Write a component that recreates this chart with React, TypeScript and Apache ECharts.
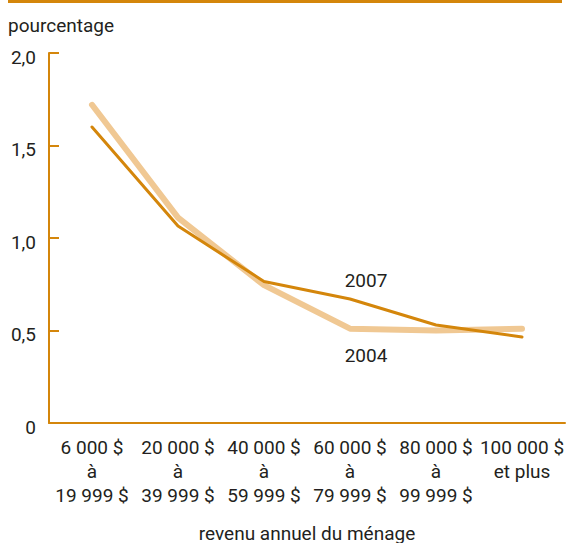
import React, { useEffect, useRef } from "react";
import * as echarts from "echarts";

const categories = [
  "6 000 $\nà\n19 999 $",
  "20 000 $\nà\n39 999 $",
  "40 000 $\nà\n59 999 $",
  "60 000 $\nà\n79 999 $",
  "80 000 $\nà\n99 999 $",
  "100 000 $\net plus",
];
const values2007 = [1.6, 1.065, 0.765, 0.67, 0.53, 0.465];
const values2004 = [1.72, 1.11, 0.745, 0.51, 0.5, 0.51];
const yTicks = [0, 0.5, 1, 1.5, 2];
const labelIndex = 3;

const DARK = "#d4860b";
const LIGHT = "#f0c893";
const TEXT = "#231f20";
const FONT = "Roboto, 'Liberation Sans', sans-serif";
const FS = 19;

export default function App() {
  const ref = useRef<HTMLDivElement>(null);
  useEffect(() => {
    if (!ref.current) return;
    const chart = echarts.init(ref.current, null, { renderer: "svg" });
    const seriesLabel = (text: string, offset: number[]) => ({
      show: true,
      position: "inside",
      formatter: text,
      offset,
      color: TEXT,
      fontSize: FS,
      fontFamily: FONT,
    });
    chart.setOption({
      animation: false,
      backgroundColor: "#ffffff",
      textStyle: { fontFamily: FONT },
      grid: { left: 49, top: 53, right: 8, bottom: 120, containLabel: false },
      graphic: [
        {
          type: "line",
          shape: { x1: 8, y1: 1.5, x2: 562, y2: 1.5 },
          style: { stroke: DARK, lineWidth: 3 },
        },
        {
          type: "text",
          x: 8,
          y: 25,
          style: {
            text: "pourcentage",
            font: `${FS}px ${FONT}`,
            fill: TEXT,
            verticalAlign: "middle",
          },
        },
        {
          type: "text",
          x: 307,
          y: 533,
          style: {
            text: "revenu annuel du ménage",
            font: `${FS}px ${FONT}`,
            fill: TEXT,
            align: "center",
            verticalAlign: "middle",
          },
        },
      ],
      xAxis: {
        type: "category",
        data: categories,
        boundaryGap: true,
        axisLine: { lineStyle: { color: DARK, width: 2 } },
        axisTick: { inside: true, length: 10, lineStyle: { color: DARK, width: 2 } },
        axisLabel: {
          interval: 0,
          margin: 12,
          color: TEXT,
          fontSize: FS,
          lineHeight: 24,
          fontFamily: FONT,
          align: "center",
        },
        splitLine: { show: false },
      },
      yAxis: {
        type: "value",
        min: yTicks[0],
        max: yTicks[yTicks.length - 1],
        interval: 0.5,
        axisLine: { show: true, lineStyle: { color: DARK, width: 2 } },
        axisTick: { show: true, inside: true, length: 10, lineStyle: { color: DARK, width: 2 } },
        splitLine: { show: false },
        axisLabel: {
          margin: 13,
          color: TEXT,
          fontSize: FS,
          fontFamily: FONT,
          verticalAlign: "top",
          lineHeight: 8,
          formatter: (v: number) => (v === 0 ? "0" : v.toFixed(1).replace(".", ",")),
        },
      },
      series: [
        {
          name: "2004",
          type: "line",
          data: values2004,
          symbol: "none",
          lineStyle: { color: LIGHT, width: 6, cap: "round", join: "round" },
          z: 2,
          markPoint: {
            symbol: "circle",
            symbolSize: 1,
            itemStyle: { color: "rgba(0,0,0,0)" },
            data: [
              {
                coord: [labelIndex, values2004[labelIndex]],
                label: seriesLabel("2004", [16, 27]),
              },
            ],
          },
        },
        {
          name: "2007",
          type: "line",
          data: values2007,
          symbol: "none",
          lineStyle: { color: DARK, width: 3, cap: "round", join: "round" },
          z: 3,
          markPoint: {
            symbol: "circle",
            symbolSize: 1,
            itemStyle: { color: "rgba(0,0,0,0)" },
            data: [
              {
                coord: [labelIndex, values2007[labelIndex]],
                label: seriesLabel("2007", [16, -19]),
              },
            ],
          },
        },
      ],
    });
    return () => chart.dispose();
  }, []);
  return (
    <div
      ref={ref}
      style={{ position: "fixed", left: 0, top: 0, width: 573, height: 543, background: "#fff" }}
    />
  );
}
